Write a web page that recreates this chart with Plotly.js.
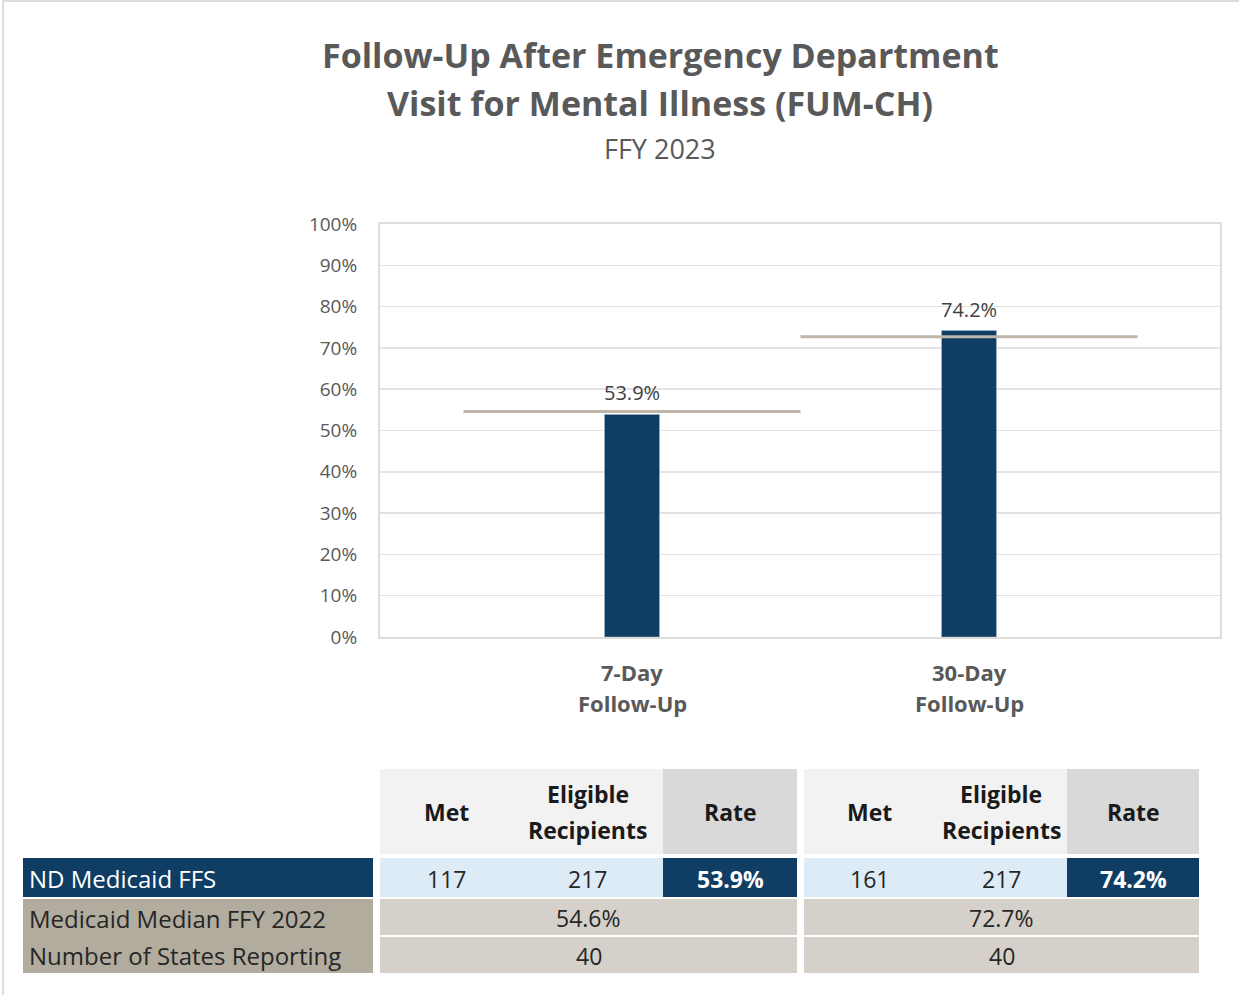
<!DOCTYPE html>
<html>
<head>
<meta charset="utf-8">
<script src="https://cdn.plot.ly/plotly-3.0.1.min.js"></script>
<style>
  html, body { margin: 0; padding: 0; background: #ffffff; }
  #chart { width: 1239px; height: 995px; }
</style>
</head>
<body>
<div id="chart"></div>
<script>
// ---- data ----
const categories = ["7-Day", "30-Day"];
const categorySub = ["Follow-Up", "Follow-Up"];
const rates = [53.9, 74.2];
const medians = [54.6, 72.7];
const metCounts = [117, 161];
const eligibleCounts = [217, 217];
const statesReporting = [40, 40];
const rowLabels = ["ND Medicaid FFS", "Medicaid Median FFY 2022", "Number of States Reporting"];
const headerLines = [["Met"], ["Eligible", "Recipients"], ["Rate"]];

// ---- layout geometry (pixels) ----
const W = 1239, H = 995;
const plotL = 380, plotR = 1220, plotT = 224, plotB = 637;
const xp = px => (px - plotL) / (plotR - plotL);
const yp = py => (plotB - py) / (plotB - plotT);

const NAVY = "#0f3d64";
const TEXT = "#595959";
const FONT = "Open Sans, Noto Sans, sans-serif";
const TBL = 23;   // table font size

// table geometry
const labelCol = [23, 373];
const groupCols = [[380, 512, 663, 797], [804, 935, 1067, 1199]];
const headRow = [769, 854];
const row1 = [858, 897];
const row2 = [899, 935];
const row3 = [937, 973];

const shapes = [];
const annotations = [];

function rect(x0, x1, y0, y1, color) {
    shapes.push({
        type: "rect", xref: "paper", yref: "paper",
        x0: xp(x0), x1: xp(x1), y0: yp(y1), y1: yp(y0),
        fillcolor: color, line: { width: 0 }, layer: "above"
    });
}
function label(text, x, y, size, color, bold, align) {
    annotations.push({
        xref: "paper", yref: "paper", x: xp(x), y: yp(y),
        xanchor: align || "center", yanchor: "middle",
        text: bold ? "<b>" + text + "</b>" : text,
        showarrow: false,
        font: { family: FONT, size: size, color: color }
    });
}

// image frame (top and left edges)
shapes.push({ type: "line", xref: "paper", yref: "paper", x0: xp(3), x1: xp(W), y0: yp(1), y1: yp(1), line: { color: "#dcdcdc", width: 2 } });
shapes.push({ type: "line", xref: "paper", yref: "paper", x0: xp(3), x1: xp(3), y0: yp(0), y1: yp(H), line: { color: "#dcdcdc", width: 2 } });

// titles
label("Follow-Up After Emergency Department", 660, 55, 34, TEXT, true);
label("Visit for Mental Illness (FUM-CH)", 660, 103, 34, TEXT, true);
label("FFY 2023", 660, 148, 27, TEXT, false);

// median lines
medians.forEach((m, i) => {
    shapes.push({
        type: "line", xref: "x", yref: "y",
        x0: i - 0.5, x1: i + 0.5, y0: m / 100, y1: m / 100,
        line: { color: "#bdb6a9", width: 3 }, layer: "above"
    });
});

// bar value labels and category labels
rates.forEach((r, i) => {
    annotations.push({
        xref: "x", yref: "y", x: i, y: r / 100, yanchor: "bottom", yshift: 6,
        text: r.toFixed(1) + "%", showarrow: false,
        font: { family: FONT, size: 20, color: "#404040" }
    });
    annotations.push({
        xref: "x", yref: "paper", x: i, y: yp(672), yanchor: "middle",
        text: "<b>" + categories[i] + "</b>", showarrow: false,
        font: { family: FONT, size: 22, color: TEXT }
    });
    annotations.push({
        xref: "x", yref: "paper", x: i, y: yp(703), yanchor: "middle",
        text: "<b>" + categorySub[i] + "</b>", showarrow: false,
        font: { family: FONT, size: 22, color: TEXT }
    });
});

// ---- table ----
// row label column
rect(labelCol[0], labelCol[1], row1[0], row1[1], NAVY);
rect(labelCol[0], labelCol[1], row2[0], row3[1], "#b2ac9f");
label(rowLabels[0], 27, (row1[0] + row1[1]) / 2 + 1, 24, "#ffffff", false, "left");
label(rowLabels[1], 27, (row2[0] + row2[1]) / 2 + 1, 24, "#262626", false, "left");
label(rowLabels[2], 27, (row3[0] + row3[1]) / 2 + 1, 24, "#262626", false, "left");

groupCols.forEach((c, g) => {
    // header cells
    rect(c[0], c[2], headRow[0], headRow[1], "#f2f2f2");
    rect(c[2], c[3], headRow[0], headRow[1], "#d9d9d9");
    headerLines.forEach((lines, k) => {
        const cx = (c[k] + c[k + 1]) / 2;
        const cy = (headRow[0] + headRow[1]) / 2;
        if (lines.length === 1) {
            label(lines[0], cx, cy, TBL, "#1a1a1a", true);
        } else {
            label(lines[0], cx, cy - 18, TBL, "#1a1a1a", true);
            label(lines[1], cx, cy + 18, TBL, "#1a1a1a", true);
        }
    });
    // ND Medicaid FFS row
    const ry = (row1[0] + row1[1]) / 2 + 1;
    rect(c[0], c[2], row1[0], row1[1], "#ddebf7");
    rect(c[2], c[3], row1[0], row1[1], NAVY);
    label(String(metCounts[g]), (c[0] + c[1]) / 2, ry, TBL, "#262626", false);
    label(String(eligibleCounts[g]), (c[1] + c[2]) / 2, ry, TBL, "#262626", false);
    label(rates[g].toFixed(1) + "%", (c[2] + c[3]) / 2, ry, TBL, "#ffffff", true);
    // median row and states row (merged across the group)
    rect(c[0], c[3], row2[0], row2[1], "#d5d1ca");
    rect(c[0], c[3], row3[0], row3[1], "#d5d1ca");
    label(medians[g].toFixed(1) + "%", (c[0] + c[3]) / 2, (row2[0] + row2[1]) / 2 + 1, TBL, "#262626", false);
    label(String(statesReporting[g]), (c[0] + c[3]) / 2, (row3[0] + row3[1]) / 2 + 1, TBL, "#262626", false);
});

// ---- chart ----
const x0px = 632, x1px = 969;          // centres of the two categories
const unit = x1px - x0px;

const barTrace = {
    type: "bar",
    x: categories.map((_, i) => i),
    y: rates.map(r => r / 100),
    width: 55 / unit,
    marker: { color: NAVY, line: { color: "#a9bfd6", width: 0.5 } },
    hoverinfo: "skip",
    showlegend: false
};

const layout = {
    width: W,
    height: H,
    paper_bgcolor: "#ffffff",
    plot_bgcolor: "#ffffff",
    margin: { l: plotL, r: W - plotR, t: plotT, b: H - plotB, pad: 0 },
    showlegend: false,
    font: { family: FONT, color: TEXT },
    xaxis: {
        range: [(plotL - x0px) / unit, (plotR - x0px) / unit],
        showticklabels: false,
        showgrid: false,
        zeroline: false,
        showline: true,
        mirror: true,
        linecolor: "#e0ddd8",
        linewidth: 2,
        ticks: "",
        fixedrange: true
    },
    yaxis: {
        range: [0, 1],
        dtick: 0.1,
        tick0: 0,
        tickformat: ".0%",
        showgrid: true,
        gridcolor: "#e3e3e3",
        gridwidth: 1.5,
        zeroline: false,
        showline: true,
        mirror: true,
        linecolor: "#e0ddd8",
        linewidth: 2,
        ticks: "",
        ticklabelstandoff: 17,
        tickfont: { family: FONT, size: 19, color: TEXT },
        fixedrange: true
    },
    shapes: shapes,
    annotations: annotations
};

Plotly.newPlot("chart", [barTrace], layout, { displayModeBar: false, staticPlot: true });
</script>
</body>
</html>
